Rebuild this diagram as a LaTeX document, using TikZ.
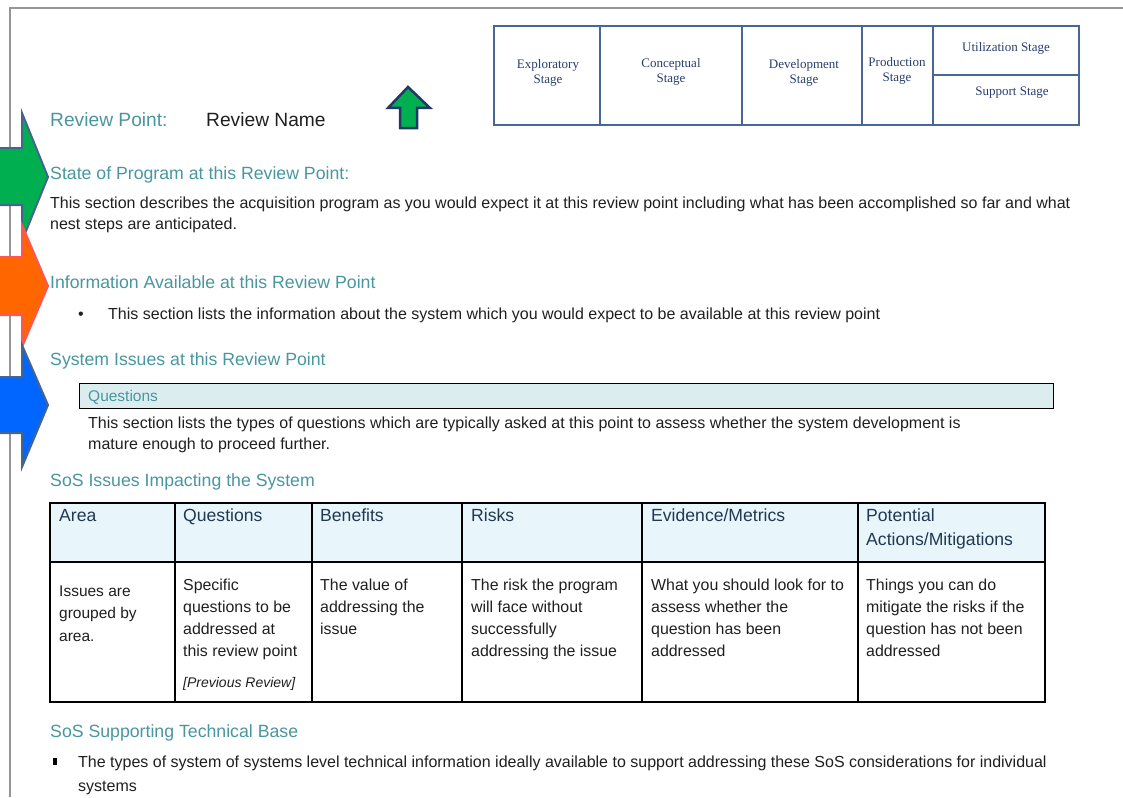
\documentclass[tikz,border=0pt]{standalone}
\usepackage{fontspec}
\setmainfont{Liberation Sans}
\newfontfamily\stagefont{Liberation Serif}
\usepackage{xcolor}
\usetikzlibrary{positioning}
\definecolor{headteal}{RGB}{72,150,160}
\definecolor{stageblue}{RGB}{72,102,150}
\definecolor{stagetext}{RGB}{40,62,110}
\definecolor{hdrfill}{RGB}{232,246,252}
\definecolor{hdrtext}{RGB}{32,56,82}
\definecolor{qfill}{RGB}{220,237,240}
\definecolor{pagegray}{RGB}{150,150,150}
\definecolor{arrowgreen}{RGB}{0,176,80}
\definecolor{arroworange}{RGB}{255,102,0}
\definecolor{arrowblue}{RGB}{0,102,255}
\definecolor{arrowedge}{RGB}{68,102,142}
\definecolor{orangeedge}{RGB}{255,85,85}
\definecolor{upedge}{RGB}{31,56,100}

\begin{document}
\begin{tikzpicture}[x=1pt,y=-1pt,
	txt/.style={anchor=base west,inner sep=0pt,align=left,text=black!88},
	head/.style={txt,text=headteal,font=\fontsize{17.7}{20}\selectfont},
	body/.style={txt,font=\fontsize{16}{20.5}\selectfont},
	hdr/.style={txt,text=hdrtext,font=\fontsize{17.6}{24}\selectfont},
	cell/.style={txt,font=\fontsize{15.9}{22}\selectfont},
	stage/.style={inner sep=0pt,align=center,text=stagetext,font=\stagefont\fontsize{13}{15}\selectfont},
	bigarrow/.style={line width=2pt,line join=miter}]
	\useasboundingbox (0,0) rectangle (1123,797);

	% page edge
	\draw[pagegray,line width=2pt] (1123,8) -- (10,8) -- (10,797);

	% life cycle stages
	\draw[stageblue,line width=1.2pt] (494,26) rectangle (1079,125)
		(600,26) -- (600,125) (742,26) -- (742,125) (862,26) -- (862,125)
		(933,26) -- (933,125) (933,75) -- (1079,75);
	\node[stage] (expl) at (548,73) {Exploratory\\Stage};
	\node[stage] (conc) at (671,72) {Conceptual\\Stage};
	\node[stage] (devl) at (804,73) {Development\\Stage};
	\node[stage] (prod) at (897,71) {Production\\Stage};
	\node[stage] (util) at (1006,48) {Utilization Stage};
	\node[stage] (supp) at (1012,93) {Support Stage};

	% side arrows
	\filldraw[bigarrow,fill=arrowgreen,draw=arrowedge] (-5,148) -- (22,148) -- (22,113) -- (48,177) -- (22,241) -- (22,205) -- (-5,205) -- cycle;
	\filldraw[bigarrow,fill=arroworange,draw=orangeedge] (-5,257) -- (22,257) -- (22,225) -- (48,286) -- (22,347) -- (22,315) -- (-5,315) -- cycle;
	\filldraw[bigarrow,fill=arrowblue,draw=arrowedge] (-5,377) -- (22,377) -- (22,345) -- (48,405) -- (22,467) -- (22,433) -- (-5,433) -- cycle;

	% review point
	\node[txt,text=headteal,font=\fontsize{19.2}{22}\selectfont] (rpoint) at (50,126) {Review Point:};
	\node[txt,font=\fontsize{19.2}{22}\selectfont] (rname) at (206,126) {Review Name};
	\filldraw[fill=arrowgreen,draw=upedge,line width=2.5pt,line join=miter] (408,87) -- (430,108) -- (417,108) -- (417,128) -- (400,128) -- (400,108) -- (388,108) -- cycle;

	% multi-line texts sit on their last baseline
	\node[head] (state) at (50,179) {State of Program at this Review Point:};
	\node[body] (statetxt) at (50,229) {This section describes the acquisition program as you would expect it at this review point including what has been accomplished so far and what\\nest steps are anticipated.};

	\node[head] (info) at (50,288) {Information Available at this Review Point};
	\node[body] (dot) at (78,319) {\textbullet};
	\node[body] (infotxt) at (108,319) {This section lists the information about the system which you would expect to be available at this review point};

	\node[head] (sysiss) at (50,365) {System Issues at this Review Point};
	\node[draw,fill=qfill,line width=1.2pt,inner sep=0pt,minimum width=974pt,minimum height=25pt,anchor=north west] (qbox) at (79,383) {};
	\node[txt,text=headteal,font=\fontsize{15.5}{17}\selectfont] (qlabel) at (88,401) {Questions};
	\node[body] (qtxt) at (88,449) {This section lists the types of questions which are typically asked at this point to assess whether the system development is\\mature enough to proceed further.};

	% SoS issues table
	\node[head] (sosiss) at (50,486) {SoS Issues Impacting the System};
	\fill[hdrfill] (50,503) rectangle (1045,562);
	\draw[line width=1.3pt] (50,503) rectangle (1045,702) (50,562) -- (1045,562)
		(175,503) -- (175,702) (312,503) -- (312,702) (462,503) -- (462,702)
		(642,503) -- (642,702) (858,503) -- (858,702);
	\node[hdr] (harea) at (59,521) {Area};
	\node[hdr] (hques) at (183,521) {Questions};
	\node[hdr] (hbene) at (320,521) {Benefits};
	\node[hdr] (hrisk) at (471,521) {Risks};
	\node[hdr] (hevid) at (651,521) {Evidence/Metrics};
	\node[hdr] (hactn) at (866,545) {Potential\\Actions/Mitigations};
	\node[txt,font=\fontsize{15.5}{22.5}\selectfont] (carea) at (59,641) {Issues are\\grouped by\\area.};
	\node[cell] (cques) at (183,656) {Specific\\questions to be\\addressed at\\this review point};
	\node[txt,font=\itshape\fontsize{14}{16}\selectfont] (cprev) at (183,687) {[Previous Review]};
	\node[cell] (cbene) at (320,634) {The value of\\addressing the\\issue};
	\node[cell] (crisk) at (471,656) {The risk the program\\will face without\\successfully\\addressing the issue};
	\node[cell] (cevid) at (651,656) {What you should look for to\\assess whether the\\question has been\\addressed};
	\node[cell] (cactn) at (866,656) {Things you can do\\mitigate the risks if the\\question has not been\\addressed};

	% technical base
	\node[head] (techbase) at (50,737) {SoS Supporting Technical Base};
	\node[fill=black,inner sep=0pt,minimum width=3.5pt,minimum height=7pt] (sq) at (55,761) {};
	\node[txt,font=\fontsize{16}{24}\selectfont] (techtxt) at (78,791) {The types of system of systems level technical information ideally available to support addressing these SoS considerations for individual\\systems};
\end{tikzpicture}
\end{document}
